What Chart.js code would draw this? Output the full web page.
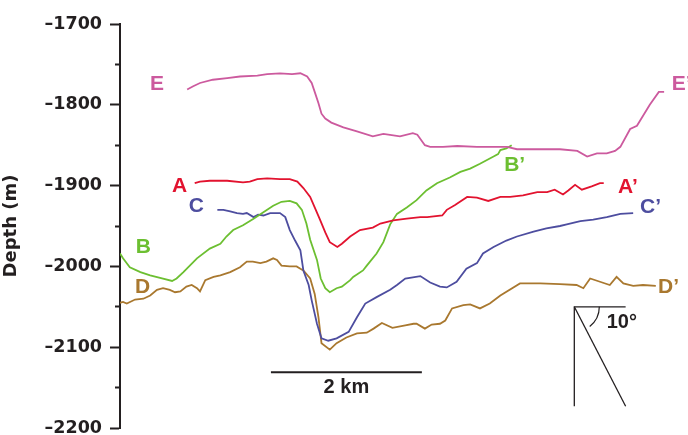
<!DOCTYPE html>
<html>
<head>
<meta charset="utf-8">
<script src="https://cdn.jsdelivr.net/npm/chart.js@4/dist/chart.umd.min.js"></script>
<style>
  html, body { margin: 0; padding: 0; background: #fff; }
  #wrap { width: 688px; height: 435px; position: relative; }
</style>
</head>
<body>
<div id="wrap"><canvas id="c"></canvas></div>
<script>
// Bathymetric profiles: along-track distance (km) and depth (m)
const profileA_km = [0.99,1.06,1.19,1.42,1.63,1.72,1.82,1.95,2.12,2.25,2.35,2.43,2.52,2.58,2.65,2.72,2.78,2.88,2.94,3.05,3.18,3.35,3.45,3.62,3.80,3.98,4.07,4.27,4.33,4.44,4.60,4.73,4.88,5.04,5.17,5.34,5.53,5.66,5.76,5.87,5.94,6.03,6.12,6.25,6.36,6.41];
const profileA_depth = [-1897,-1895,-1894,-1894,-1896,-1895,-1892,-1891,-1892,-1892,-1895,-1903,-1914,-1927,-1942,-1958,-1970,-1976,-1972,-1963,-1955,-1952,-1947,-1943,-1941,-1939,-1939,-1937,-1930,-1924,-1914,-1915,-1919,-1914,-1914,-1912,-1908,-1908,-1905,-1911,-1906,-1899,-1905,-1901,-1897,-1897];

const profileB_km = [0.00,0.04,0.13,0.27,0.40,0.57,0.69,0.75,0.84,1.02,1.19,1.33,1.41,1.50,1.63,1.77,1.90,2.03,2.14,2.25,2.34,2.41,2.47,2.52,2.61,2.66,2.72,2.78,2.87,2.94,3.05,3.09,3.22,3.27,3.40,3.49,3.58,3.67,3.80,3.93,4.06,4.20,4.37,4.51,4.64,4.77,4.95,5.01,5.04,5.12,5.19];
const profileB_depth = [-1984,-1990,-2001,-2007,-2011,-2015,-2018,-2015,-2007,-1990,-1978,-1972,-1963,-1955,-1949,-1941,-1933,-1925,-1920,-1919,-1922,-1930,-1947,-1967,-1992,-2015,-2027,-2032,-2027,-2025,-2017,-2013,-2005,-1999,-1984,-1970,-1948,-1935,-1927,-1918,-1906,-1897,-1890,-1883,-1879,-1873,-1864,-1861,-1856,-1854,-1850];

const profileC_km = [1.29,1.37,1.46,1.55,1.63,1.68,1.77,1.83,1.90,1.99,2.12,2.19,2.25,2.32,2.39,2.43,2.50,2.54,2.61,2.67,2.76,2.87,3.03,3.14,3.25,3.40,3.58,3.67,3.78,3.98,4.11,4.24,4.33,4.46,4.59,4.73,4.81,4.95,5.12,5.26,5.48,5.65,5.83,5.92,6.10,6.27,6.45,6.63,6.80];
const profileC_depth = [-1930,-1930,-1932,-1934,-1935,-1934,-1939,-1936,-1937,-1934,-1934,-1939,-1955,-1968,-1980,-2005,-2023,-2042,-2071,-2089,-2092,-2089,-2081,-2063,-2046,-2038,-2029,-2023,-2015,-2012,-2020,-2025,-2026,-2019,-2003,-1996,-1984,-1976,-1968,-1963,-1957,-1953,-1950,-1948,-1944,-1942,-1939,-1935,-1934];

const profileD_km = [0.00,0.04,0.09,0.20,0.31,0.40,0.49,0.57,0.66,0.73,0.80,0.88,0.95,1.02,1.06,1.13,1.24,1.33,1.46,1.59,1.68,1.76,1.86,1.94,2.03,2.08,2.14,2.25,2.34,2.39,2.43,2.52,2.58,2.63,2.67,2.78,2.87,3.00,3.14,3.27,3.36,3.47,3.61,3.78,3.89,3.93,4.04,4.13,4.24,4.31,4.40,4.55,4.64,4.77,4.90,5.04,5.30,5.57,5.83,6.05,6.14,6.23,6.36,6.49,6.58,6.67,6.80,6.93,7.10];
const profileD_depth = [-2045,-2044,-2046,-2041,-2040,-2036,-2029,-2027,-2029,-2032,-2031,-2025,-2023,-2027,-2031,-2017,-2013,-2011,-2007,-2001,-1994,-1994,-1996,-1994,-1990,-1992,-1999,-2000,-2000,-2003,-2005,-2015,-2034,-2063,-2095,-2103,-2095,-2088,-2083,-2082,-2077,-2070,-2076,-2073,-2071,-2071,-2077,-2072,-2071,-2067,-2052,-2048,-2047,-2052,-2046,-2036,-2021,-2021,-2022,-2023,-2027,-2015,-2019,-2023,-2013,-2021,-2024,-2023,-2024];

const profileE_km = [0.89,0.97,1.06,1.23,1.42,1.59,1.82,1.95,2.12,2.28,2.39,2.48,2.54,2.58,2.63,2.67,2.72,2.80,2.96,3.14,3.35,3.49,3.71,3.88,3.94,4.04,4.11,4.28,4.47,4.73,5.00,5.13,5.26,5.57,5.83,6.06,6.19,6.32,6.45,6.56,6.63,6.76,6.85,7.02,7.14,7.21];
const profileE_depth = [-1781,-1777,-1773,-1769,-1767,-1765,-1764,-1762,-1761,-1762,-1761,-1765,-1773,-1784,-1798,-1811,-1817,-1822,-1828,-1833,-1839,-1836,-1839,-1835,-1837,-1850,-1852,-1852,-1851,-1852,-1852,-1852,-1855,-1855,-1855,-1857,-1864,-1860,-1860,-1857,-1852,-1830,-1826,-1800,-1784,-1784];

// Profile end labels (start and primed end) in km / m
const labelText  = ['E', 'A', 'C', 'B', 'D', 'B\u2019', 'A\u2019', 'C\u2019', 'D\u2019', 'E\u2019'];
const labelKm    = [0.49, 0.79, 1.01, 0.31, 0.30, 5.09, 6.60, 6.89, 7.13, 7.31];
const labelDepth = [-1774, -1901, -1925, -1976, -2026, -1875, -1902, -1927, -2026, -1774];
const labelProfile = ['E', 'A', 'C', 'B', 'D', 'B', 'A', 'C', 'D', 'E'];

// Depth axis
const depthMin = -2200;
const depthMax = -1700;
const depthStep = 50;
const depthLabelStep = 100;

// 2 km scale bar
const scaleBarKm = [2.0, 4.0];
const scaleBarDepth = -2131;
const scaleBarLabel = '2 km';

// Slope reference: 10 degree line drawn with the chart's vertical exaggeration
const slopeCornerKm = 6.02, slopeCornerDepth = -2050;
const slopeEndKm = 6.70, slopeEndDepth = -2173;
const slopeLabel = '10\u00B0';

const colors = { A: '#e2132f', B: '#6cbf31', C: '#4d4d9f', D: '#a9782f', E: '#cc5a9e' };
const ink = '#231f20';

const toPoints = (xs, ys) => xs.map((x, i) => ({ x, y: ys[i] }));
const profileLine = (name, xs, ys) => ({
  label: name, data: toPoints(xs, ys), borderColor: colors[name],
  borderWidth: 1.8, pointRadius: 0, tension: 0, fill: false
});
const refLine = (pts, w) => ({
  label: '', data: pts, borderColor: ink, borderWidth: w,
  pointRadius: 0, tension: 0, fill: false, borderCapStyle: 'butt'
});

const annotate = {
  id: 'annotate',
  afterDatasetsDraw(chart) {
    const { ctx, scales: { x, y } } = chart;
    ctx.save();
    ctx.textBaseline = 'middle';
    ctx.font = 'bold 21px "Liberation Sans", Arial, sans-serif';
    labelText.forEach((t, i) => {
      ctx.fillStyle = colors[labelProfile[i]];
      ctx.textAlign = t.length > 1 ? 'left' : 'center';
      ctx.fillText(t, x.getPixelForValue(labelKm[i]), y.getPixelForValue(labelDepth[i]));
    });
    ctx.fillStyle = ink;
    ctx.font = 'bold 20px "Liberation Sans", Arial, sans-serif';
    ctx.textAlign = 'center';
    ctx.fillText(scaleBarLabel, x.getPixelForValue((scaleBarKm[0] + scaleBarKm[1]) / 2), y.getPixelForValue(scaleBarDepth - 19));
    ctx.fillText(slopeLabel, x.getPixelForValue(6.65), y.getPixelForValue(-2069));
    // angle arc between the horizontal and the sloping line
    const cx = x.getPixelForValue(slopeCornerKm), cy = y.getPixelForValue(slopeCornerDepth);
    ctx.strokeStyle = ink;
    ctx.lineWidth = 1.2;
    ctx.beginPath();
    ctx.arc(cx, cy, 25, 0, 52 * Math.PI / 180);
    ctx.stroke();
    ctx.restore();
  }
};

new Chart(document.getElementById('c'), {
  type: 'line',
  data: {
    datasets: [
      profileLine('E', profileE_km, profileE_depth),
      profileLine('A', profileA_km, profileA_depth),
      profileLine('B', profileB_km, profileB_depth),
      profileLine('C', profileC_km, profileC_depth),
      profileLine('D', profileD_km, profileD_depth),
      refLine([{ x: scaleBarKm[0], y: scaleBarDepth }, { x: scaleBarKm[1], y: scaleBarDepth }], 2),
      refLine([{ x: slopeCornerKm, y: slopeEndDepth }, { x: slopeCornerKm, y: slopeCornerDepth }, { x: slopeEndKm, y: slopeCornerDepth }], 1.3),
      refLine([{ x: slopeCornerKm, y: slopeCornerDepth }, { x: slopeEndKm, y: slopeEndDepth }], 1.3)
    ]
  },
  options: {
    responsive: true,
    maintainAspectRatio: false,
    animation: false,
    devicePixelRatio: 1,
    layout: { padding: { top: 24, right: 2, bottom: 7, left: 0 } },
    plugins: { legend: { display: false }, tooltip: { enabled: false } },
    scales: {
      x: { type: 'linear', min: 0, max: 7.5, display: false },
      y: {
        type: 'linear', position: 'left', min: depthMin, max: depthMax,
        afterFit(scale) { scale.width = 120; scale.paddingTop = 0; scale.paddingBottom = 0; },
        border: { display: true, color: ink, width: 2 },
        grid: {
          drawOnChartArea: false, drawTicks: true, tickLength: 10, tickWidth: 2, tickColor: ink,
          tickBorderDash: (c) => (c.tick && c.tick.value % depthLabelStep !== 0) ? [0, 5, 20] : []
        },
        ticks: {
          stepSize: depthStep, padding: 8, color: ink,
          font: { family: '"DejaVu Sans", sans-serif', weight: 'bold', size: 17.5 },
          callback: (v) => (v % depthLabelStep === 0 ? (v < 0 ? '\u2013' : '') + Math.abs(v) : '')
        },
        title: {
          display: true, text: 'Depth (m)', color: ink, padding: { top: 1, bottom: 0 },
          font: { family: '"DejaVu Sans", sans-serif', weight: 'bold', size: 18 }
        }
      }
    }
  },
  plugins: [annotate]
});
</script>
</body>
</html>
